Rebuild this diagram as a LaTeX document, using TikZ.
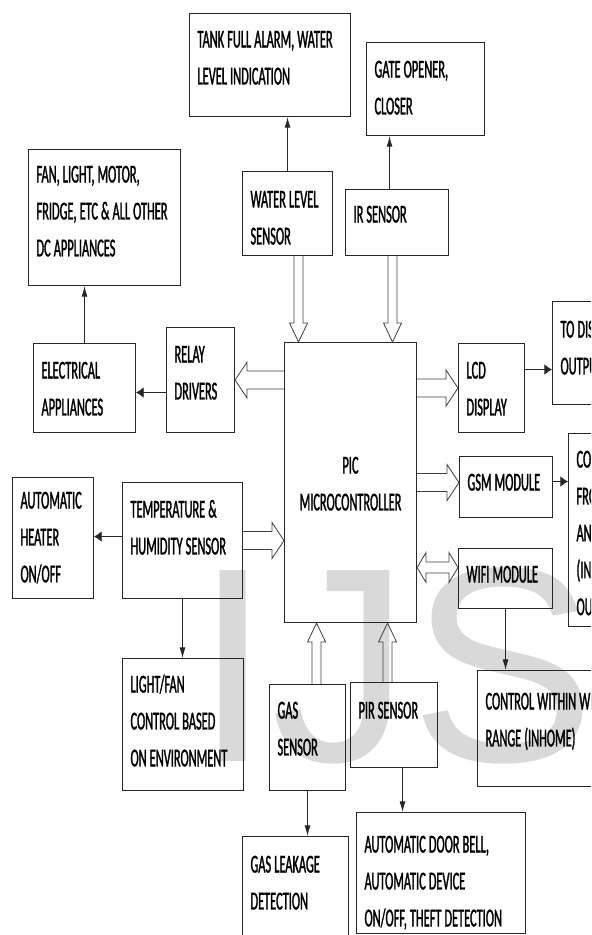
\documentclass[tikz,border=0pt]{standalone}
\usepackage{fontspec}
\setmainfont{Carlito}[FakeStretch=0.48, FakeBold=1.2]
\newfontfamily\wmfont{Liberation Sans}
\usetikzlibrary{arrows.meta,calc,positioning}
\newlength\pxl \setlength\pxl{0.03cm}
\newcommand\blkfont{\fontsize{22}{31.5}\selectfont\spaceskip=2.6pt\hyphenpenalty=10000 \uchyph=0 }
\tikzset{
  blk/.style={draw=black!85, line width=0.9pt, anchor=north west, inner xsep=8\pxl, inner ysep=0pt, align=flush left, font=\blkfont},
  arrh/.style={draw=black!85, line width=0.7pt, -{Latex[length=6.5pt,width=9pt]}},
  arrv/.style={draw=black!85, line width=0.7pt, -{Latex[length=9pt,width=5pt]}},
  fat/.style={draw=black!75, line width=0.7pt},
  wm/.style={anchor=base west, inner sep=0pt, text=black!15, font=\wmfont\fontsize{237}{240}\selectfont}
}
\newcommand\fatR[2]{\draw[fat] let \p1=(#1), \p2=(#2) in
  (\x1,\y1+7.7pt) -- (\x2-10.2pt,\y1+7.7pt) -- (\x2-10.2pt,\y1+15.3pt) -- (\x2,\y1)
  -- (\x2-10.2pt,\y1-15.3pt) -- (\x2-10.2pt,\y1-7.7pt) -- (\x1,\y1-7.7pt);}
\newcommand\fatL[2]{\draw[fat] let \p1=(#1), \p2=(#2) in
  (\x1,\y1+7.7pt) -- (\x2+10.2pt,\y1+7.7pt) -- (\x2+10.2pt,\y1+15.3pt) -- (\x2,\y1)
  -- (\x2+10.2pt,\y1-15.3pt) -- (\x2+10.2pt,\y1-7.7pt) -- (\x1,\y1-7.7pt);}
\newcommand\fatD[2]{\draw[fat] let \p1=(#1), \p2=(#2) in
  (\x1-3.8pt,\y1) -- (\x1-3.8pt,\y2+16.2pt) -- (\x1-7.7pt,\y2+16.2pt) -- (\x1,\y2)
  -- (\x1+7.7pt,\y2+16.2pt) -- (\x1+3.8pt,\y2+16.2pt) -- (\x1+3.8pt,\y1);}
\newcommand\fatU[2]{\draw[fat] let \p1=(#1), \p2=(#2) in
  (\x1-3.8pt,\y1) -- (\x1-3.8pt,\y2-16.2pt) -- (\x1-7.7pt,\y2-16.2pt) -- (\x1,\y2)
  -- (\x1+7.7pt,\y2-16.2pt) -- (\x1+3.8pt,\y2-16.2pt) -- (\x1+3.8pt,\y1);}
\newcommand\fatLR[2]{\draw[fat] let \p1=(#1), \p2=(#2) in
  (\x1,\y1) -- (\x1+7.7pt,\y1+12.8pt) -- (\x1+7.7pt,\y1+4.7pt) -- (\x2-7.7pt,\y1+4.7pt)
  -- (\x2-7.7pt,\y1+12.8pt) -- (\x2,\y1) -- (\x2-7.7pt,\y1-12.8pt) -- (\x2-7.7pt,\y1-4.7pt)
  -- (\x1+7.7pt,\y1-4.7pt) -- (\x1+7.7pt,\y1-12.8pt) -- cycle;}
\begin{document}
\begin{tikzpicture}[x=0.03cm,y=-0.03cm]
\useasboundingbox (0,0) rectangle (591,935);
\clip (0,0) rectangle (591,935);

\node[wm] (wmark) at (194,761) {IJS};

\node[blk, text width=145\pxl, text height=34\pxl, text depth=69\pxl] (tank) at (189,13)
  {TANK FULL ALARM, WATER\\LEVEL INDICATION};
\node[blk, text width=102\pxl, text height=35\pxl, text depth=58\pxl] (gate) at (366,42)
  {GATE OPENER,\\CLOSER};
\node[blk, text width=136\pxl, text height=33\pxl, text depth=103\pxl] (fan) at (28,149)
  {FAN, LIGHT, MOTOR,\\FRIDGE, ETC \& ALL OTHER\\DC APPLIANCES};
\node[blk, text width=74\pxl, text height=36\pxl, text depth=48\pxl] (wl) at (242,171)
  {WATER LEVEL\\SENSOR};
\node[blk, text width=87\pxl, text height=33\pxl, text depth=33\pxl] (ir) at (345,189)
  {IR SENSOR};
\node[blk, text width=84\pxl, text height=36\pxl, text depth=67\pxl] (todis) at (552,301)
  {TO DISPLAY\\OUTPUT};
\node[blk, text width=52\pxl, text height=35\pxl, text depth=70\pxl] (relay) at (166,327)
  {RELAY\\DRIVERS};
\node[blk, text width=86\pxl, text height=35\pxl, text depth=54\pxl] (elec) at (33,343)
  {ELECTRICAL\\APPLIANCES};
\node[blk, inner xsep=0pt, align=center, text width=132\pxl, text height=131\pxl, text depth=149\pxl] (pic) at (284,342)
  {PIC\\MICROCONTROLLER};
\node[blk, text width=50\pxl, text height=35\pxl, text depth=54\pxl] (lcd) at (458,343)
  {LCD\\DISPLAY};
\node[blk, text width=77\pxl, text height=34\pxl, text depth=27\pxl] (gsm) at (459,456)
  {GSM MODULE};
\node[blk, text width=64\pxl, text height=34\pxl, text depth=159\pxl] (co) at (568,433)
  {CONTROL\\FROM\\ANYWHERE\\(INTERNET\\OUTHOME)};
\node[blk, text width=78\pxl, text height=34\pxl, text depth=26\pxl] (wifi) at (458,548)
  {WIFI MODULE};
\node[blk, text width=65\pxl, text height=31\pxl, text depth=90\pxl] (heater) at (12,477)
  {AUTOMATIC\\HEATER\\ON/OFF};
\node[blk, text width=104\pxl, text height=35\pxl, text depth=81\pxl] (temp) at (122,482)
  {TEMPERATURE \&\\HUMIDITY SENSOR};
\node[blk, text width=105\pxl, text height=34\pxl, text depth=98\pxl] (light) at (122,658)
  {LIGHT/FAN\\CONTROL BASED\\ON ENVIRONMENT};
\node[blk, text width=144\pxl, text height=39\pxl, text depth=77\pxl] (control) at (477,670)
  {CONTROL WITHIN WIFI\\RANGE (INHOME)};
\node[blk, text width=71\pxl, text height=36\pxl, text depth=49\pxl] (pir) at (350,682)
  {PIR SENSOR};
\node[blk, text width=60\pxl, text height=34\pxl, text depth=72\pxl] (gas) at (269,684)
  {GAS\\SENSOR};
\node[blk, text width=90\pxl, text height=36\pxl, text depth=74\pxl] (leak) at (242,836)
  {GAS LEAKAGE\\DETECTION};
\node[blk, text width=153\pxl, text height=40\pxl, text depth=81\pxl] (door) at (356,812)
  {AUTOMATIC DOOR BELL,\\AUTOMATIC DEVICE\\ON/OFF, THEFT DETECTION};

\coordinate (irup) at ($(ir.north)+(-7.5,0)$);
\coordinate (pirdn) at ($(pir.south)+(8.5,0)$);
\coordinate (relayout) at ($(relay.west)+(0,12.5)$);
\coordinate (lcdout) at ($(lcd.east)+(0,-18.5)$);
\coordinate (gsmout) at ($(gsm.east)+(0,-5.5)$);
\coordinate (tempout) at ($(temp.west)+(0,-4)$);
\coordinate (gsmin) at ($(gsm.west)+(0,-4.5)$);
\coordinate (wifiin) at ($(wifi.west)+(0,-11)$);
\coordinate (wlin) at ($(wl.south)+(11,0)$);
\coordinate (irin) at ($(ir.south)+(-4.5,0)$);
\coordinate (gasin) at ($(gas.north)+(9,0)$);
\coordinate (pirin) at ($(pir.north)+(-6.5,0)$);

\draw[arrv] (wl.north) -- (wl.north |- tank.south);
\draw[arrv] (irup) -- (irup |- gate.south);
\draw[arrv] (elec.north) -- (elec.north |- fan.south);
\draw[arrh] (relayout) -- (relayout -| elec.east);
\draw[arrh] (lcdout) -- (lcdout -| todis.west);
\draw[arrh] (gsmout) -- (gsmout -| co.west);
\draw[arrh] (tempout) -- (tempout -| heater.east);
\draw[arrv] (temp.south) -- (temp.south |- light.north);
\draw[arrv] (wifi.south) -- (wifi.south |- control.north);
\draw[arrv] (gas.south) -- (gas.south |- leak.north);
\draw[arrv] (pirdn) -- (pirdn |- door.north);

\fatD{wlin}{wlin |- pic.north}
\fatD{irin}{irin |- pic.north}
\fatU{gasin}{gasin |- pic.south}
\fatU{pirin}{pirin |- pic.south}
\fatL{pic.west |- relay.east}{relay.east}
\fatR{temp.east}{temp.east -| pic.west}
\fatR{pic.east |- lcd.west}{lcd.west}
\fatR{pic.east |- gsmin}{gsmin}
\fatLR{pic.east |- wifiin}{wifiin}
\end{tikzpicture}
\end{document}
